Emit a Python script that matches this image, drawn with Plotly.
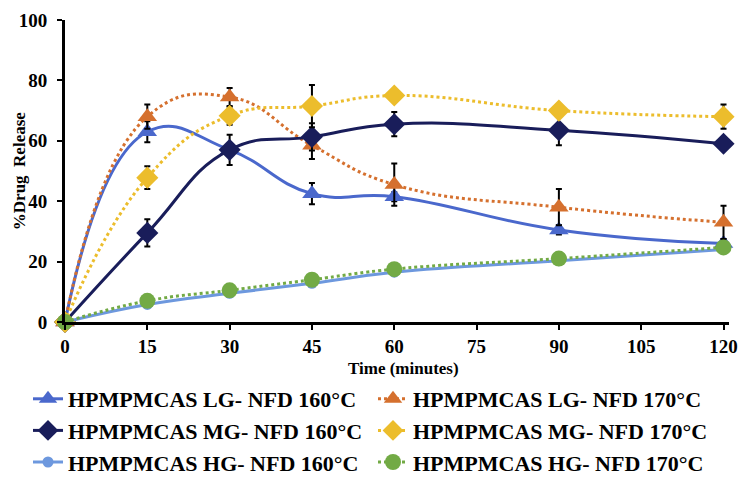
import plotly.graph_objects as go

time_min = [0, 15, 30, 45, 60, 90, 120]

lg160 = [0, 63, 57, 42.5, 41.5, 30.5, 26]
lg160_err = [0, 3.5, 2, 3.5, 1.5, 1.5, 1.5]
lg170 = [0, 68, 74.5, 58.5, 45.5, 38, 33]
lg170_err = [0, 4, 3, 4.5, 7, 6, 5.5]
mg160 = [0, 29.5, 57, 61.3, 65.5, 63.5, 59]
mg160_err = [0, 4.5, 5, 4.5, 4, 5, 0.5]
mg170 = [0, 47.8, 68.3, 71.5, 75, 70, 68]
mg170_err = [0, 3.8, 3, 7, 1, 1, 4]
hg160 = [0, 5.8, 9.5, 12.8, 16.5, 20.3, 24]
hg160_err = [0, 0.5, 0.5, 0.5, 0.5, 0.5, 0.5]
hg170 = [0, 7, 10.5, 14, 17.5, 21, 24.7]
hg170_err = [0, 0.5, 0.5, 0.5, 0.5, 0.5, 0.5]

x_ticks = [0, 15, 30, 45, 60, 75, 90, 105, 120]
x_title = "Time (minutes)"
y_title = "%Drug  Release"

names = [
    "HPMPMCAS LG- NFD 160°C", "HPMPMCAS LG- NFD 170°C",
    "HPMPMCAS MG- NFD 160°C", "HPMPMCAS MG- NFD 170°C",
    "HPMPMCAS HG- NFD 160°C", "HPMPMCAS HG- NFD 170°C",
]

series = [
    (lg160, lg160_err, "#4A68CC", "solid", "triangle-up", 17, "legend"),
    (lg170, lg170_err, "#D5702E", "dot", "triangle-up", 17, "legend2"),
    (mg160, mg160_err, "#191D5A", "solid", "diamond", 17, "legend"),
    (mg170, mg170_err, "#ECBD2C", "dot", "diamond", 17, "legend2"),
    (hg160, hg160_err, "#6D98DE", "solid", "circle", 11, "legend"),
    (hg170, hg170_err, "#72AA45", "dot", "circle", 16, "legend2"),
]

fig = go.Figure()
for i, (name, (vals, err, color, dash, sym, size, leg)) in enumerate(zip(names, series)):
    fig.add_trace(go.Scatter(
        x=time_min, y=vals, name=name, mode="lines+markers",
        legend=leg, legendgroup=f"g{i}",
        line=dict(color=color, width=3, dash=dash, shape="spline", smoothing=1.3),
        marker=dict(symbol=sym, size=size, color=color),
        error_y=dict(type="data", array=err, visible=True, color="black",
                     thickness=2, width=3),
        cliponaxis=False,
    ))

font_family = "Liberation Serif"
W, H = 731, 469  # the page body adds an 8px margin on every side

leg_common = dict(
    orientation="v", xref="container", yref="container",
    xanchor="left", yanchor="top",
    font=dict(size=22, family=font_family, weight="bold", color="black"),
    itemwidth=30, tracegroupgap=0,
    bgcolor="rgba(0,0,0,0)",
)

axis_common = dict(
    automargin=False, ticklabeloverflow="allow",
    showline=True, linecolor="black", linewidth=3, ticks="outside",
    ticklen=5, tickwidth=2, tickcolor="black", showgrid=False, zeroline=False,
    tickfont=dict(size=19, family=font_family, weight="bold", color="black"),
)

fig.update_layout(
    width=W, height=H,
    margin=dict(l=57, r=10, t=12, b=155, autoexpand=False),
    paper_bgcolor="white", plot_bgcolor="white",
    font=dict(family=font_family, color="black", size=18, weight="bold"),
    xaxis=dict(range=[0, 121], tickvals=x_ticks, **axis_common),
    yaxis=dict(range=[0, 100], dtick=20, ticklabelstandoff=6, **axis_common),
    legend=dict(x=20 / W, y=1 - 370 / H, **leg_common),
    legend2=dict(x=365 / W, y=1 - 370 / H, **leg_common),
    showlegend=True,
    annotations=[
        dict(text=x_title, xref="paper", yref="paper", x=0.51, y=-0.153,
             xanchor="center", yanchor="middle", showarrow=False,
             font=dict(size=17, family=font_family, weight="bold", color="black")),
        dict(text=y_title, xref="paper", yref="paper", x=-0.069, y=0.5,
             xanchor="center", yanchor="middle", showarrow=False, textangle=-90,
             font=dict(size=17, family=font_family, weight="bold", color="black")),
    ],
)

fig.write_html("out.html")
